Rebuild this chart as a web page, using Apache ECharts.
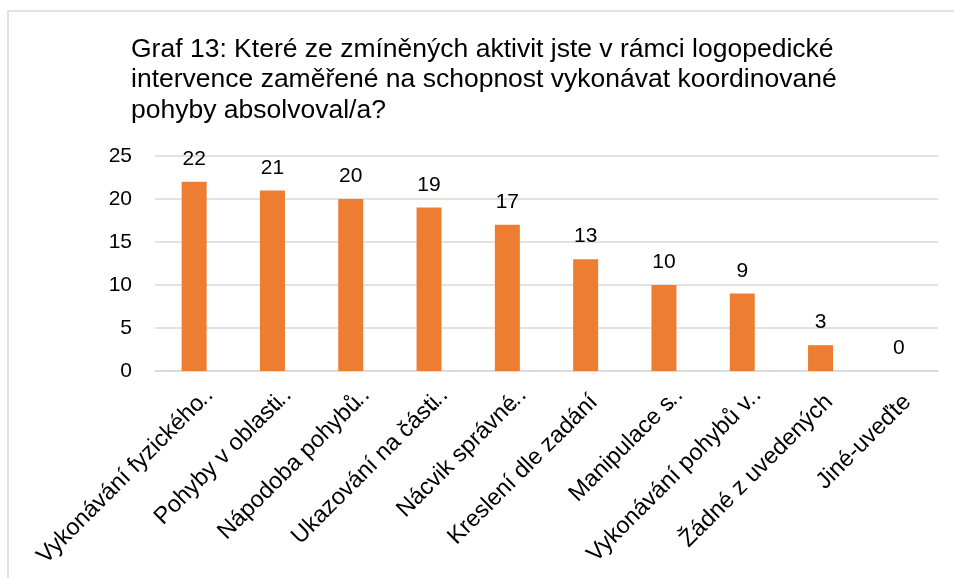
<!DOCTYPE html>
<html>
<head>
<meta charset="utf-8">
<script src="https://cdn.jsdelivr.net/npm/echarts@6/dist/echarts.min.js"></script>
<style>
  html, body { margin: 0; padding: 0; background: #fff; }
  #chart { width: 954px; height: 578px; }
</style>
</head>
<body>
<div id="chart"></div>
<script>
const titleText = 'Graf 13: Které ze zmíněných aktivit jste v rámci logopedické\nintervence zaměřené na schopnost vykonávat koordinované\npohyby absolvoval/a?';

const categories = [
  'Vykonávání fyzického…',
  'Pohyby v oblasti…',
  'Nápodoba pohybů…',
  'Ukazování na části…',
  'Nácvik správné…',
  'Kreslení dle zadání',
  'Manipulace s…',
  'Vykonávání pohybů v…',
  'Žádné z uvedených',
  'Jiné-uveďte'
];
const counts = [22, 21, 20, 19, 17, 13, 10, 9, 3, 0];
const yTicks = [0, 5, 10, 15, 20, 25];

const font = '"Liberation Sans", Arial, sans-serif';
const chart = echarts.init(document.getElementById('chart'));

// Excel lets the "…" hang past the label end, so put it in its own narrow rich box
function catLabel(v) {
  if (v.endsWith('…')) {
    return '{b|' + v.slice(0, -1) + '}{e|…}';
  }
  return '{b|' + v + '}';
}

chart.setOption({
  animation: false,
  graphic: [{
    type: 'rect',
    shape: { x: 8, y: 11, width: 1000, height: 700 },
    style: { fill: 'none', stroke: '#d9d9d9', lineWidth: 1.5 },
    silent: true
  }],
  title: {
    text: titleText,
    left: 126,
    top: 29,
    textStyle: {
      fontFamily: font,
      fontSize: 26.5,
      fontWeight: 'normal',
      color: '#000',
      lineHeight: 30.5
    }
  },
  grid: {
    left: 155,
    right: 16,
    top: 156,
    bottom: 207
  },
  xAxis: {
    type: 'category',
    data: categories,
    axisTick: { show: false },
    axisLine: { lineStyle: { color: '#d9d9d9', width: 1.5 } },
    axisLabel: {
      interval: 0,
      rotate: 45,
      margin: 19,
      align: 'right',
      verticalAlign: 'top',
      formatter: catLabel,
      rich: {
        b: { fontFamily: font, fontSize: 23.5, color: '#000' },
        e: { fontFamily: font, fontSize: 23.5, color: '#000', width: 2, overflow: 'none', align: 'left' }
      }
    }
  },
  yAxis: {
    type: 'value',
    min: yTicks[0],
    max: yTicks[yTicks.length - 1],
    interval: 5,
    axisLine: { show: false },
    axisTick: { show: false },
    splitLine: { lineStyle: { color: '#d9d9d9', width: 1.5 } },
    axisLabel: {
      margin: 23,
      fontFamily: font,
      fontSize: 21,
      color: '#000'
    }
  },
  series: [{
    type: 'bar',
    data: counts,
    barWidth: 25,
    itemStyle: { color: '#ED7D31' },
    label: {
      show: true,
      position: 'top',
      distance: 12,
      fontFamily: font,
      fontSize: 21,
      color: '#000'
    }
  }]
});
</script>
</body>
</html>
